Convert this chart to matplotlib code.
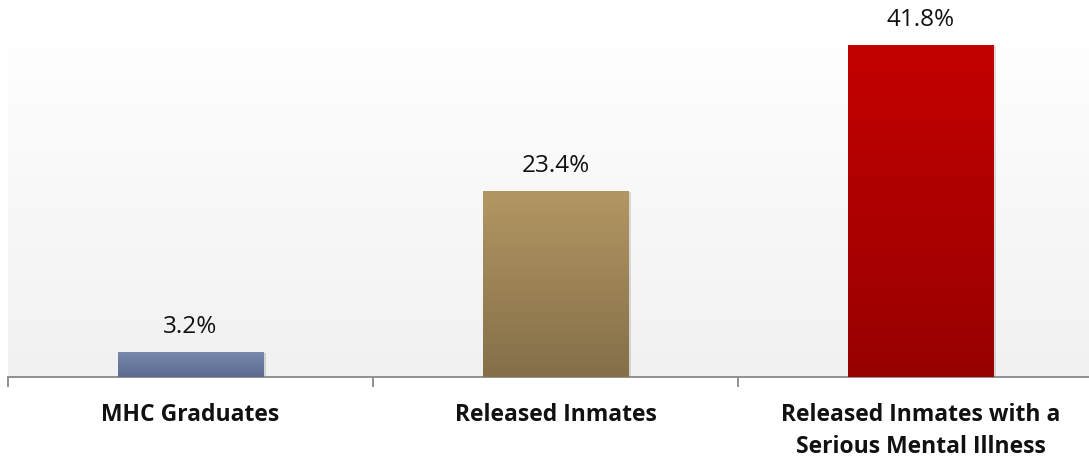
import numpy as np
import matplotlib
matplotlib.use("Agg")
import matplotlib.pyplot as plt
from matplotlib.colors import LinearSegmentedColormap

categories = ["MHC Graduates", "Released Inmates",
              "Released Inmates with a\nSerious Mental Illness"]
values = [3.2, 23.4, 41.8]
value_labels = ["3.2%", "23.4%", "41.8%"]

# top / bottom colours of each bar's vertical gradient
bar_top = ["#7b8bb0", "#b39763", "#c40000"]
bar_bottom = ["#5b6a8c", "#846f48", "#980000"]

plt.rcParams['font.family'] = ['Open Sans', 'DejaVu Sans']

W, H = 1089, 460
fig = plt.figure(figsize=(W / 100, H / 100), dpi=100)
# plot area runs slightly past the right edge of the canvas
left, right, top, bottom = 8, 1103, 27, 378
ax = fig.add_axes([left / W, 1 - bottom / H, (right - left) / W, (bottom - top) / H])

x = np.arange(len(categories))
ymax = 44.2
ax.set_xlim(-0.5, len(categories) - 0.5)
ax.set_ylim(0, ymax)

# plot-area background: white at the top fading to light grey
bg = LinearSegmentedColormap.from_list("bg", ["#f1f1f1", "#ffffff"])
grad = np.linspace(0, 1, 256).reshape(-1, 1)
ax.imshow(grad, cmap=bg, aspect="auto", origin="lower",
          extent=(-0.5, len(categories) - 0.5, 0, ymax), zorder=0)

bars = ax.bar(x, values, width=0.4, facecolor="none", edgecolor="none", zorder=3)
for b, v, tc, bc in zip(bars, values, bar_top, bar_bottom):
    # soft drop shadow
    sh = plt.Rectangle((b.get_x() + 0.006, 0), b.get_width(), v - 0.15,
                       facecolor="#000000", alpha=0.12, edgecolor="none", zorder=2)
    ax.add_patch(sh)
    cm = LinearSegmentedColormap.from_list("g", [bc, tc])
    im = ax.imshow(grad, cmap=cm, aspect="auto", origin="lower",
                   extent=(b.get_x(), b.get_x() + b.get_width(), 0, v), zorder=3)
    im.set_clip_path(b)

for xi, v, lab in zip(x, values, value_labels):
    ax.annotate(lab, (xi, v), xytext=(0, 10), textcoords="offset points",
                ha="center", va="bottom", fontsize=17.5, color="#111111")

for s in ["top", "right", "left"]:
    ax.spines[s].set_visible(False)
ax.spines["bottom"].set_color("#888888")
ax.spines["bottom"].set_linewidth(1.3)
ax.set_yticks([])
ax.set_xticks(np.arange(-0.5, len(categories)))
ax.set_xticklabels([])
ax.tick_params(axis="x", length=7, color="#888888", width=1.3)
for xi, lab in zip(x, categories):
    ax.text(xi, -0.072, lab, transform=ax.get_xaxis_transform(),
            ha="center", va="top", fontsize=16.5, fontweight="bold",
            color="#111111", linespacing=1.45)

fig.savefig("out.png", dpi=100, facecolor="white")
